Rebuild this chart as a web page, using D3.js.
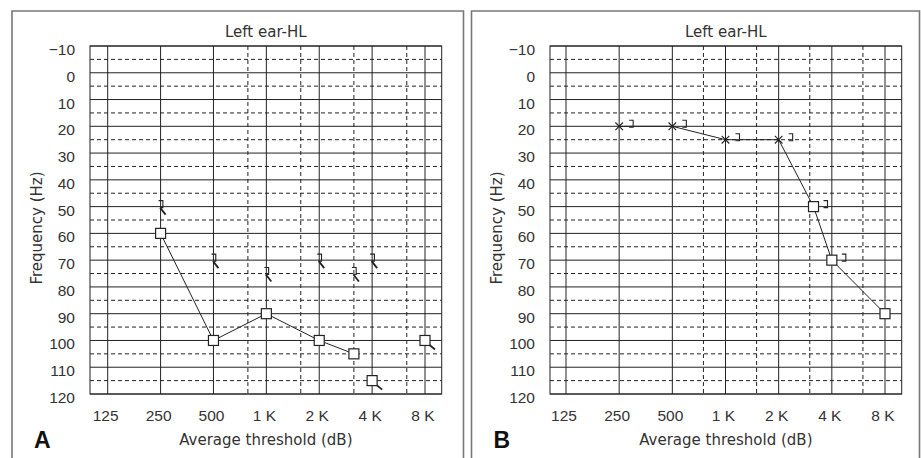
<!DOCTYPE html>
<html>
<head>
<meta charset="utf-8">
<script src="https://cdn.jsdelivr.net/npm/d3@7"></script>
<style>
  html, body { margin: 0; padding: 0; background: #fff; }
  svg { display: block; }
</style>
</head>
<body>
<svg id="chart" width="921" height="458"></svg>
<script>
// ---- data ----
const octaveFreqs = [125, 250, 500, 1000, 2000, 4000, 8000];
const octaveLabels = ["125", "250", "500", "1 K", "2 K", "4 K", "8 K"];
const levelTicks = d3.range(-10, 121, 10);
const halfLevels = d3.range(-5, 120, 10);

// panel A
const midFreqsA = [785, 1570, 3150, 6300];
const airFreqsA = [250, 500, 1000, 2000, 3150, 4000, 8000];
const airLevelsA = [60, 100, 90, 100, 105, 115, 100];
const airNoRespA = [false, false, false, false, false, true, true];
const airJoinedA = 5; // first five points are joined
const boneFreqsA = [250, 500, 1000, 2000, 3150, 4000];
const boneLevelsA = [50, 70, 75, 70, 75, 70];

// panel B
const midFreqsB = [750, 1500, 3000, 6000];
const xFreqsB = [250, 500, 1000, 2000];
const xLevelsB = [20, 20, 25, 25];
const sqFreqsB = [3150, 4000, 8000];
const sqLevelsB = [50, 70, 90];
const boneFreqsB = [250, 500, 1000, 2000, 3150, 4000];
const boneLevelsB = [20, 20, 25, 25, 50, 70];

const svg = d3.select('#chart');
const ink = '#222';
const textCol = '#333';
const wordFont = '"DejaVu Sans", sans-serif';
const numFont = '"Liberation Sans", Arial, sans-serif';

const y = d3.scaleLinear().domain([-10, 120]).range([46, 394]);

function drawPanel(p) {
  const g = svg.append('g');
  const x = d3.scaleLog().domain([125, 8000]).range(p.octRange);
  const x0 = p.plotLeft, x1 = p.plotRight;

  // outer frame
  g.append('path')
    .attr('d', `M${p.frameLeft},458 V11 H${p.frameRight} V458`)
    .attr('fill', 'none').attr('stroke', '#777').attr('stroke-width', 1.6);

  // dashed horizontal grid
  g.selectAll('.hd').data(halfLevels).enter().append('line')
    .attr('x1', x0).attr('x2', x1)
    .attr('y1', d => y(d)).attr('y2', d => y(d))
    .attr('stroke', ink).attr('stroke-width', 1).attr('stroke-dasharray', '4,3');

  // dashed vertical grid
  g.selectAll('.vd').data(p.mids).enter().append('line')
    .attr('x1', d => x(d)).attr('x2', d => x(d))
    .attr('y1', y(-10)).attr('y2', y(120))
    .attr('stroke', ink).attr('stroke-width', 1).attr('stroke-dasharray', '4,3');

  // solid horizontal grid
  g.selectAll('.hs').data(levelTicks).enter().append('line')
    .attr('x1', x0).attr('x2', x1)
    .attr('y1', d => y(d)).attr('y2', d => y(d))
    .attr('stroke', ink).attr('stroke-width', 1);

  // solid vertical grid
  g.selectAll('.vs').data(octaveFreqs).enter().append('line')
    .attr('x1', d => x(d)).attr('x2', d => x(d))
    .attr('y1', y(-10)).attr('y2', y(120))
    .attr('stroke', ink).attr('stroke-width', 1);

  // plot border
  g.append('rect')
    .attr('x', x0).attr('y', y(-10))
    .attr('width', x1 - x0).attr('height', y(120) - y(-10))
    .attr('fill', 'none').attr('stroke', ink).attr('stroke-width', 1);

  // y tick labels
  g.selectAll('.yt').data(levelTicks).enter().append('text')
    .attr('x', x0 - 15).attr('y', d => y(d) + 9)
    .attr('text-anchor', 'end')
    .attr('font-family', numFont).attr('font-size', 15.5).attr('fill', textCol)
    .text(d => d < 0 ? '\u2212' + Math.abs(d) : d);

  // x tick labels
  g.selectAll('.xt').data(octaveFreqs).enter().append('text')
    .attr('x', d => x(d) - 2).attr('y', 421)
    .attr('text-anchor', 'middle')
    .attr('font-family', numFont).attr('font-size', 15.5).attr('fill', textCol)
    .text((d, i) => octaveLabels[i]);

  const cx = (x0 + x1) / 2;
  g.append('text')
    .attr('x', cx).attr('y', 37).attr('text-anchor', 'middle')
    .attr('font-family', wordFont).attr('font-size', 15).attr('fill', textCol)
    .text('Left ear-HL');
  g.append('text')
    .attr('x', cx).attr('y', 445).attr('text-anchor', 'middle')
    .attr('font-family', wordFont).attr('font-size', 15).attr('fill', textCol)
    .text('Average threshold (dB)');
  g.append('text')
    .attr('transform', `translate(${x0 - 48},${(y(-10) + y(120)) / 2 + 8}) rotate(-90)`)
    .attr('text-anchor', 'middle')
    .attr('font-family', wordFont).attr('font-size', 15).attr('fill', textCol)
    .text('Frequency (Hz)');
  g.append('text')
    .attr('x', p.frameLeft + 22).attr('y', 448)
    .attr('font-family', '"Liberation Sans", Arial, sans-serif')
    .attr('font-weight', 'bold').attr('font-size', 23).attr('fill', '#111')
    .text(p.letter);

  p.draw(g, x);
}

const line = (x) => d3.line().x(d => x(d[0])).y(d => y(d[1]));

function squares(g, x, pts) {
  g.selectAll(null).data(pts).enter().append('rect')
    .attr('x', d => x(d[0]) - 5).attr('y', d => y(d[1]) - 5)
    .attr('width', 10).attr('height', 10)
    .attr('fill', '#fff').attr('stroke', ink).attr('stroke-width', 1.2);
}

drawPanel({
  letter: 'A',
  frameLeft: 12, frameRight: 463.5,
  plotLeft: 90, plotRight: 441.7,
  octRange: [107.7, 425],
  mids: midFreqsA,
  draw(g, x) {
    const air = airFreqsA.map((f, i) => [f, airLevelsA[i], airNoRespA[i]]);
    g.append('path').datum(air.slice(0, airJoinedA))
      .attr('d', line(x)).attr('fill', 'none')
      .attr('stroke', ink).attr('stroke-width', 1);
    // no-response tails on squares
    g.selectAll(null).data(air.filter(d => d[2])).enter().append('line')
      .attr('x1', d => x(d[0]) + 4).attr('y1', d => y(d[1]) + 4)
      .attr('x2', d => x(d[0]) + 10).attr('y2', d => y(d[1]) + 9)
      .attr('stroke', ink).attr('stroke-width', 1.8);
    squares(g, x, air);
    // bone conduction, no response
    const bone = boneFreqsA.map((f, i) => [f, boneLevelsA[i]]);
    g.selectAll(null).data(bone).enter().append('path')
      .attr('d', d => {
        const px = x(d[0]), py = y(d[1]);
        return `M${px - 2},${py - 6}H${px + 2.3}V${py + 1}H${px - 0.5}`;
      })
      .attr('fill', 'none').attr('stroke', ink).attr('stroke-width', 1.1);
    g.selectAll(null).data(bone).enter().append('line')
      .attr('x1', d => x(d[0]) - 0.5).attr('y1', d => y(d[1]) + 1)
      .attr('x2', d => x(d[0]) + 5).attr('y2', d => y(d[1]) + 8)
      .attr('stroke', ink).attr('stroke-width', 1.8);
  }
});

drawPanel({
  letter: 'B',
  frameLeft: 471.5, frameRight: 919.5,
  plotLeft: 550, plotRight: 901.7,
  octRange: [566, 885],
  mids: midFreqsB,
  draw(g, x) {
    const xs = xFreqsB.map((f, i) => [f, xLevelsB[i]]);
    const sq = sqFreqsB.map((f, i) => [f, sqLevelsB[i]]);
    g.append('path').datum(xs.concat(sq))
      .attr('d', line(x)).attr('fill', 'none')
      .attr('stroke', ink).attr('stroke-width', 1);
    g.selectAll(null).data(xs).enter().append('path')
      .attr('d', d => {
        const px = x(d[0]), py = y(d[1]), s = 3.8;
        return `M${px - s},${py - s}L${px + s},${py + s}M${px - s},${py + s}L${px + s},${py - s}`;
      })
      .attr('stroke', ink).attr('stroke-width', 1.1);
    squares(g, x, sq);
    const bone = boneFreqsB.map((f, i) => [f, boneLevelsB[i]]);
    g.selectAll(null).data(bone).enter().append('path')
      .attr('d', d => {
        const px = x(d[0]), py = y(d[1]);
        return `M${px + 10},${py - 6}H${px + 14}V${py + 1}H${px + 10}`;
      })
      .attr('fill', 'none').attr('stroke', ink).attr('stroke-width', 1.1);
  }
});
</script>
</body>
</html>
